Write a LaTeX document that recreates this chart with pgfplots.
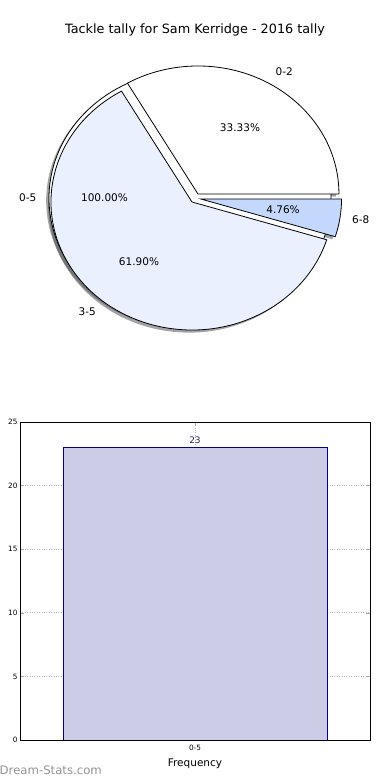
\documentclass[border=0pt]{standalone}
\usepackage{pgfplots}
\pgfplotsset{compat=1.18}
\usepackage{fontspec}
\setmainfont{DejaVu Sans}
\definecolor{wA}{RGB}{255,255,255}
\definecolor{wB}{RGB}{234,240,254}
\definecolor{wC}{RGB}{196,216,254}
\definecolor{shA}{RGB}{77,77,77}
\definecolor{shB}{RGB}{70,72,76}
\definecolor{shC}{RGB}{59,65,76}
\definecolor{barfill}{RGB}{204,204,230}
\definecolor{baredge}{RGB}{0,0,139}
\definecolor{vallab}{RGB}{40,40,80}
% pie data: label, percent -> angles (start at 0 deg, counter-clockwise)
% 0-5: 100.00 (full), 0-2: 33.33 -> 0..120, 3-5: 61.90 -> 120..342.84, 6-8: 4.76 -> 342.84..360
\begin{document}
\begin{tikzpicture}
\coordinate (P0) at (0pt,0pt);
\coordinate (B0) at (20pt,40pt);
% ---------------- pie ----------------
\begin{axis}[at={(P0)},anchor=origin,scale only axis,width=390pt,height=780pt,
  xmin=0,xmax=390,ymin=0,ymax=780,hide axis,clip=false]
% shadows
\fill[shA,opacity=0.5] (187.2,579.2) ellipse [x radius=141,y radius=128];
\fill[shA,opacity=0.5] (195.15,583.41) -- ++(0:141 and 128) arc[start angle=0,end angle=120,x radius=141,y radius=128] -- cycle;
\fill[shB,opacity=0.5] (189.19,575.4) -- ++(120:141 and 128) arc[start angle=120,end angle=342.84,x radius=141,y radius=128] -- cycle;
\fill[shC,opacity=0.5] (197.74,578.47) -- ++(342.84:141 and 128) arc[start angle=342.84,end angle=360,x radius=141,y radius=128] -- cycle;
% wedges
\filldraw[fill=wA,draw=black,line width=0.8pt] (190.0,581.8) ellipse [x radius=141,y radius=128];
\filldraw[fill=wA,draw=black,line width=0.8pt,line join=miter] (197.95,586.01) -- ++(0:141 and 128) arc[start angle=0,end angle=120,x radius=141,y radius=128] -- cycle;
\filldraw[fill=wB,draw=black,line width=0.8pt,line join=miter] (191.99,578.0) -- ++(120:141 and 128) arc[start angle=120,end angle=342.84,x radius=141,y radius=128] -- cycle;
\filldraw[fill=wC,draw=black,line width=0.8pt,line join=miter] (200.54,581.07) -- ++(342.84:141 and 128) arc[start angle=342.84,end angle=360,x radius=141,y radius=128] -- cycle;
% labels
\node[font=\fontsize{12.8}{14}\selectfont] at (195,750) {Tackle tally for Sam Kerridge - 2016 tally};
\begin{scope}[every node/.style={font=\fontsize{10.5}{12}\selectfont,inner sep=0pt}]
\node[anchor=west] at (275.5,708) {0-2};
\node at (240,652) {33.33\%};
\node[anchor=east] at (36.5,582) {0-5};
\node at (104.5,582) {100.00\%};
\node[anchor=east] at (96,468) {3-5};
\node at (139,518) {61.90\%};
\node[anchor=west] at (352,560) {6-8};
\node at (283,570) {4.76\%};
\node[anchor=west,text=gray!85,font=\fontsize{11.7}{13}\selectfont] at (-0.5,9.5) {Dream-Stats.com};
\end{scope}
\end{axis}
% ---------------- bar ----------------
\begin{axis}[at={(B0)},anchor=south west,scale only axis,width=350pt,height=318pt,
  xmin=-0.53,xmax=0.53,ymin=0,ymax=25,
  ytick={0,5,10,15,20,25},xtick={0},xticklabels={0-5},
  ymajorgrids,xmajorgrids,grid style={dotted,gray!60,line width=0.8pt},
  axis line style={black,line width=0.8pt},
  tick align=inside,major tick length=4pt,tick style={gray!70,line width=0.6pt},
  xtick pos=both,ytick pos=both,
  ticklabel style={font=\fontsize{7.3}{8}\selectfont},
  /pgf/number format/assume math mode=true,
  yticklabel style={xshift=1pt},
  xticklabel style={yshift=-1.5pt},
  xlabel={Frequency},xlabel style={font=\fontsize{10.5}{12}\selectfont,yshift=-1pt},
  ]
\addplot[ybar,bar width=0.8,fill=barfill,draw=baredge,line width=0.8pt,
  nodes near coords,nodes near coords style={font=\fontsize{9}{10}\selectfont,text=vallab,yshift=0pt}]
  coordinates {(0,23)};
\end{axis}
\pgfresetboundingbox
\path[use as bounding box] (0pt,0pt) rectangle (390pt,780pt);
\end{tikzpicture}
\end{document}
